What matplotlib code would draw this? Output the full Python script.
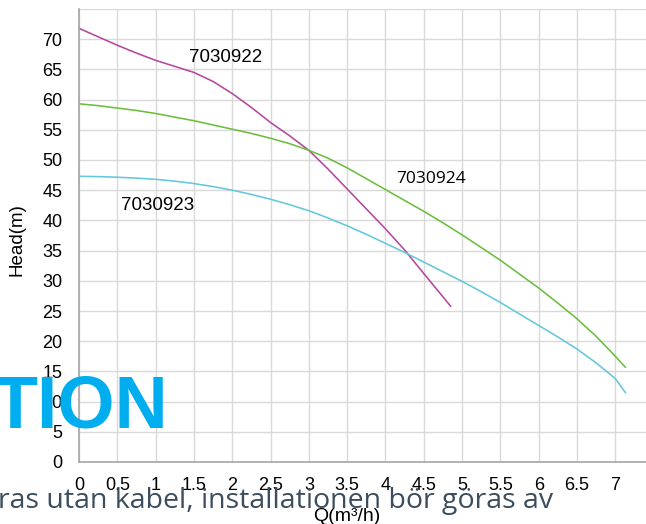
import numpy as np
import matplotlib
matplotlib.use("Agg")
import matplotlib.pyplot as plt

# pump curves, Q (m3/h) vs head (m), every 0.25 m3/h
q_922 = [0, 0.25, 0.5, 0.75, 1, 1.25, 1.5, 1.75, 2, 2.25, 2.5, 2.75, 3,
         3.25, 3.5, 3.75, 4, 4.25, 4.5, 4.85]
h_922 = [71.8, 70.4, 69.0, 67.7, 66.5, 65.5, 64.5, 63.0, 61.0, 58.7, 56.2, 54.0, 51.6,
         48.5, 45.2, 41.9, 38.6, 35.1, 31.2, 25.8]

q_924 = [0, 0.25, 0.5, 0.75, 1, 1.25, 1.5, 1.75, 2, 2.25, 2.5, 2.75, 3,
         3.25, 3.5, 3.75, 4, 4.25, 4.5, 4.75, 5, 5.25, 5.5, 5.75, 6,
         6.25, 6.5, 6.75, 7, 7.13]
h_924 = [59.3, 59.0, 58.6, 58.2, 57.7, 57.1, 56.5, 55.8, 55.1, 54.4, 53.6, 52.7, 51.6,
         50.3, 48.7, 46.9, 45.1, 43.3, 41.5, 39.6, 37.6, 35.5, 33.4, 31.1, 28.8,
         26.3, 23.7, 20.8, 17.5, 15.7]

q_923 = [0, 0.25, 0.5, 0.75, 1, 1.25, 1.5, 1.75, 2, 2.25, 2.5, 2.75, 3,
         3.25, 3.5, 3.75, 4, 4.25, 4.5, 4.75, 5, 5.25, 5.5, 5.75, 6,
         6.25, 6.5, 6.75, 7, 7.13]
h_923 = [47.3, 47.25, 47.15, 47.0, 46.8, 46.5, 46.1, 45.6, 45.0, 44.3, 43.5, 42.6, 41.6,
         40.4, 39.1, 37.7, 36.2, 34.7, 33.1, 31.5, 29.9, 28.2, 26.4, 24.5, 22.6,
         20.7, 18.7, 16.4, 13.8, 11.5]

x_ticks = [0, 0.5, 1, 1.5, 2, 2.5, 3, 3.5, 4, 4.5, 5, 5.5, 6, 6.5, 7]
x_labels = ["0", "0.5", "1", "1.5", "2", "2.5", "3", "3.5", "4", "4.5", "5", "5.5", "6", "6.5", "7"]
y_ticks = list(range(0, 80, 5))
y_labels = [str(v) for v in range(0, 75, 5)] + [""]

plt.rcParams["font.family"] = ["Liberation Sans", "DejaVu Sans"]

fig = plt.figure(figsize=(6.46, 5.24), dpi=100)
ax = fig.add_axes([79 / 646, 62 / 524, 1 - 79 / 646, (462 - 9) / 524])

ax.plot(q_922, h_922, color="#b4479f", lw=1.15)
ax.plot(q_924, h_924, color="#6cbd3e", lw=1.15)
ax.plot(q_923, h_923, color="#62c8da", lw=1.15)

ax.text(1.92, 66.9, "7030922", fontsize=13.5, ha="center", va="center")
ax.text(1.02, 42.5, "7030923", fontsize=13.5, ha="center", va="center")
ax.text(4.6, 46.9, "7030924", fontsize=12.5, ha="center", va="center",
        family=["Open Sans", "DejaVu Sans"])

ax.set_xlim(0, 7.4)
ax.set_ylim(0, 75)
ax.set_xticks(x_ticks)
ax.set_xticklabels(x_labels)
ax.set_yticks(y_ticks)
ax.set_yticklabels(y_labels)
ax.tick_params(length=0, labelsize=13, pad=12)
ax.tick_params(axis="x", pad=10.5)
ax.grid(True, color="#d9d9d9", lw=1)
ax.set_axisbelow(True)
for s in ["top", "right"]:
    ax.spines[s].set_visible(False)
for s in ["left", "bottom"]:
    ax.spines[s].set_color("#a6a6a6")
    ax.spines[s].set_linewidth(1.2)

fig.text(17 / 646, 1 - 240 / 524, "Head(m)", rotation=90, fontsize=13.5,
         ha="center", va="center")
fig.text(347 / 646, 1 - 508 / 524, "Q(m³/h)", fontsize=14, ha="center", va="top")

# page overlay text
fig.text(168 / 646, 1 - 427 / 524, "TION", fontsize=53, fontweight="bold",
         color="#00adee", ha="right", va="baseline")
fig.text(-2 / 646, 1 - 508 / 524, "ras utan kabel, installationen bör göras av",
         fontsize=20.5, color="#3c4d5e", ha="left", va="baseline",
         family=["Open Sans", "DejaVu Sans"])

fig.savefig("out.png", dpi=100)
